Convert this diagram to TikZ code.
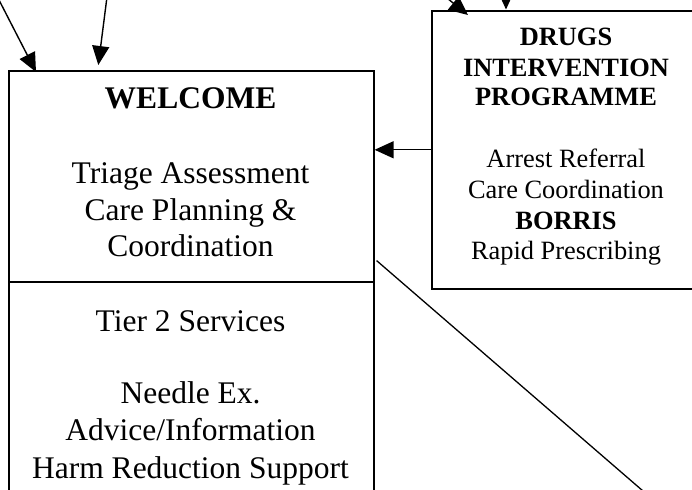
\documentclass[tikz,border=0pt]{standalone}
\usepackage{fontspec}
\setmainfont{Liberation Serif}
\usetikzlibrary{arrows.meta,calc}
\begin{document}
\begin{tikzpicture}[x=1pt,y=-1pt,
  boxline/.style={draw, line width=1.6pt, inner sep=0pt},
  big/.style={font=\fontsize{31.5}{36}\selectfont, anchor=base, inner sep=0pt},
  bigb/.style={font=\fontsize{31.5}{36}\selectfont\bfseries, anchor=base, inner sep=0pt},
  mid/.style={font=\fontsize{26.4}{30}\selectfont, anchor=base, inner sep=0pt},
  midb/.style={font=\fontsize{26.4}{30}\selectfont\bfseries, anchor=base, inner sep=0pt},
  arr/.style={-{Triangle[length=19pt,width=17pt]}, line width=1.4pt},
  plain/.style={line width=1.3pt}]
\useasboundingbox (0,0) rectangle (692,489);
\clip (0,0) rectangle (692,489);
% boxes
\node[boxline, anchor=north west, minimum width=365pt, minimum height=211pt] (welcome) at (8,70) {};
\node[boxline, anchor=north west, minimum width=365pt, minimum height=260pt] (tier) at (8,281) {};
\node[boxline, anchor=north west, minimum width=270pt, minimum height=278pt] (dip) at (431,10) {};
% left box texts
\node[bigb] (w1) at (190.5,109) {WELCOME};
\node[big] (w2) at (190.5,183) {Triage Assessment};
\node[big] (w3) at (190.5,220) {Care Planning \&};
\node[big] (w4) at (190.5,256) {Coordination};
\node[big] (t1) at (190.5,331) {Tier 2 Services};
\node[big] (t2) at (190.5,403) {Needle Ex.};
\node[big] (t3) at (190.5,440.5) {Advice/Information};
\node[big] (t4) at (190.5,478) {Harm Reduction Support};
% right box texts
\node[midb] (d1) at (566,46) {DRUGS};
\node[midb] (d2) at (566,76.7) {INTERVENTION};
\node[midb] (d3) at (566,106) {PROGRAMME};
\node[mid] (d4) at (566,167.7) {Arrest Referral};
\node[mid] (d5) at (566,198) {Care Coordination};
\node[midb] (d6) at (566,229) {BORRIS};
\node[mid] (d7) at (566,259) {Rapid Prescribing};
% free ends
\coordinate (a1s) at (-1,0);
\coordinate (a2s) at (107.5,-7);
\coordinate (a3s) at (429,-16.5);
\coordinate (a4s) at (506,-20);
\coordinate (lineS) at ($(welcome.south east)+(2,-22)$);
\coordinate (lineE) at (680,523);
% connectors
\draw[arr] (a1s) -- ($(welcome.north west)+(28,2)$);
\draw[arr] (a2s) -- ($(welcome.north west)+(90.3,-5)$);
\draw[arr] (a3s) -- ($(dip.north west)+(37,5)$);
\draw[arr] (a4s) -- ($(dip.north west)+(75,-0.5)$);
\draw[arr] (dip.west) -- (dip.west -| welcome.east);
\draw[plain] (lineS) -- (lineE);
\end{tikzpicture}
\end{document}
